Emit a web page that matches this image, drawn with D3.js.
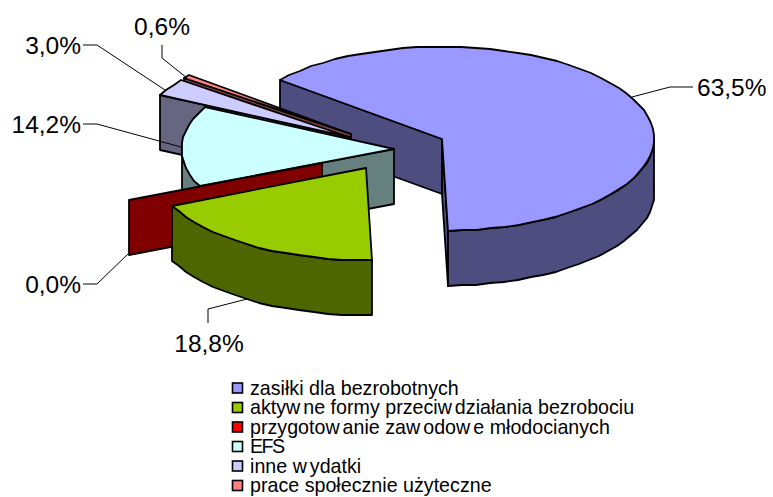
<!DOCTYPE html>
<html><head><meta charset="utf-8">
<script src="https://cdn.jsdelivr.net/npm/d3@7"></script>
<style>html,body{margin:0;padding:0;background:#fff}svg{display:block}text{font-family:"Liberation Sans",Arial,sans-serif;fill:#000}</style>
</head><body><div id="c"></div>
<script>
const categories = ["zasiłki dla bezrobotnych","aktywne formy przeciwdziałania bezrobociu","przygotowanie zawodowe młodocianych","EFS","inne wydatki","prace społecznie użyteczne"];
const values = [63.5,18.8,0.0,14.2,3.0,0.6];
const valueLabels = ["63,5%","18,8%","0,0%","14,2%","3,0%","0,6%"];
const topColors = ["#9999ff","#99cc00","#ff0000","#ccffff","#ccccff","#ff8080"];
const wallColors = ["#4d4d80","#4d6600","#800000","#668080","#666680","#804040"];
const explode = [54,52,78,0,53,54];
const drawOrder = [0,5,4,3,2,1];

const W=773,H=497,cx=393.5,cy=149,rx=212,ry=92,depth=55;
const svg=d3.select("#c").append("svg").attr("width",W).attr("height",H);
const sx=d3.scaleLinear().domain([-1,1]).range([cx-rx,cx+rx]);
const sy=d3.scaleLinear().domain([-1,1]).range([cy-ry,cy+ry]);
const deg=Math.PI/180;
const arcs=d3.pie().sort(null).startAngle(-50*deg).endAngle(310*deg)(values);
const line=d3.line().x(d=>d[0]).y(d=>d[1]);
function geom(i){
  const a=arcs[i],m=(a.startAngle+a.endAngle)/2;
  const ox=explode[i]*Math.sin(m), oy=-explode[i]/rx*Math.cos(m)*ry;
  const P=(t,r=1,d=0)=>[Math.round(sx(r*Math.sin(t))+ox),Math.round(sy(-r*Math.cos(t))+oy)+d];
  return {a,P};
}
function sample(a0,a1){const n=Math.max(1,Math.ceil((a1-a0)/(4*deg)));return d3.range(n+1).map(k=>a0+(a1-a0)*k/n);}
const g=svg.append("g");
drawOrder.forEach(i=>{
  const {a,P}=geom(i);
  const s=a.startAngle,e=a.endAngle,style=(p,f)=>p.attr("fill",f).attr("stroke","#000").attr("stroke-width",1.8).attr("stroke-linejoin","round");
  const radial=t=>style(g.append("path").attr("d",line([P(0,0),P(t),P(t,1,depth),P(0,0,depth)])+"Z"),wallColors[i]);
  if(e===s) radial(s);
  else {
    if(Math.sin(s)<0) radial(s);
    if(Math.sin(e)>0) radial(e);
  }
  const f0=Math.max(s,90*deg),f1=Math.min(e,270*deg);
  if(f1>f0){
    const ts=sample(f0,f1);
    style(g.append("path").attr("d",line([...ts.map(t=>P(t)),...ts.slice().reverse().map(t=>P(t,1,depth))])+"Z"),wallColors[i]);
  }
  if(e>s){
    style(g.append("path").attr("d",line([P(0,0),...sample(s,e).map(t=>P(t))])+"Z"),topColors[i]);
  }
});
const labelAnchor=[[697,"start"],[209,"middle"],[81,"end"],[81,"end"],[81,"end"],[162,"middle"]];
const labelY=[87,343,284,124,45,26];
const leaders=[[[632,97],[670,87],[693,87]],[[247,299],[208,309],[208,323]],[[128,254],[97,284],[83,284]],[[181,147],[97,124],[83,124]],[[165,90],[97,45],[83,45]],[[187,78],[162,58],[162,45]]];
leaders.forEach(l=>svg.append("path").attr("d",line(l)).attr("fill","none").attr("stroke","#000").attr("stroke-width",1));
valueLabels.forEach((t,i)=>svg.append("text").attr("x",labelAnchor[i][0]).attr("y",labelY[i]).attr("dy","0.35em").attr("text-anchor",labelAnchor[i][1]).attr("font-size",24.5).text(t));
const legendY=d3.scalePoint().domain(d3.range(categories.length)).range([388,485.5]);
categories.forEach((c,i)=>{
  const y=legendY(i);
  svg.append("rect").attr("x",232.5).attr("y",y-5).attr("width",10).attr("height",10).attr("fill",topColors[i]).attr("stroke","#000").attr("stroke-width",1.6);
  const dx=Array.from(c).map((ch,k,arr)=>(k>0&&arr[k-1]==="w"&&/[a-zęó]/.test(ch))?3:(k>0&&c==="EFS"?-1.5:0)).join(" ");
  svg.append("text").attr("x",250).attr("y",y).attr("dy","0.35em").attr("dx",dx).attr("font-size",19.65).text(c);
});
</script></body></html>
